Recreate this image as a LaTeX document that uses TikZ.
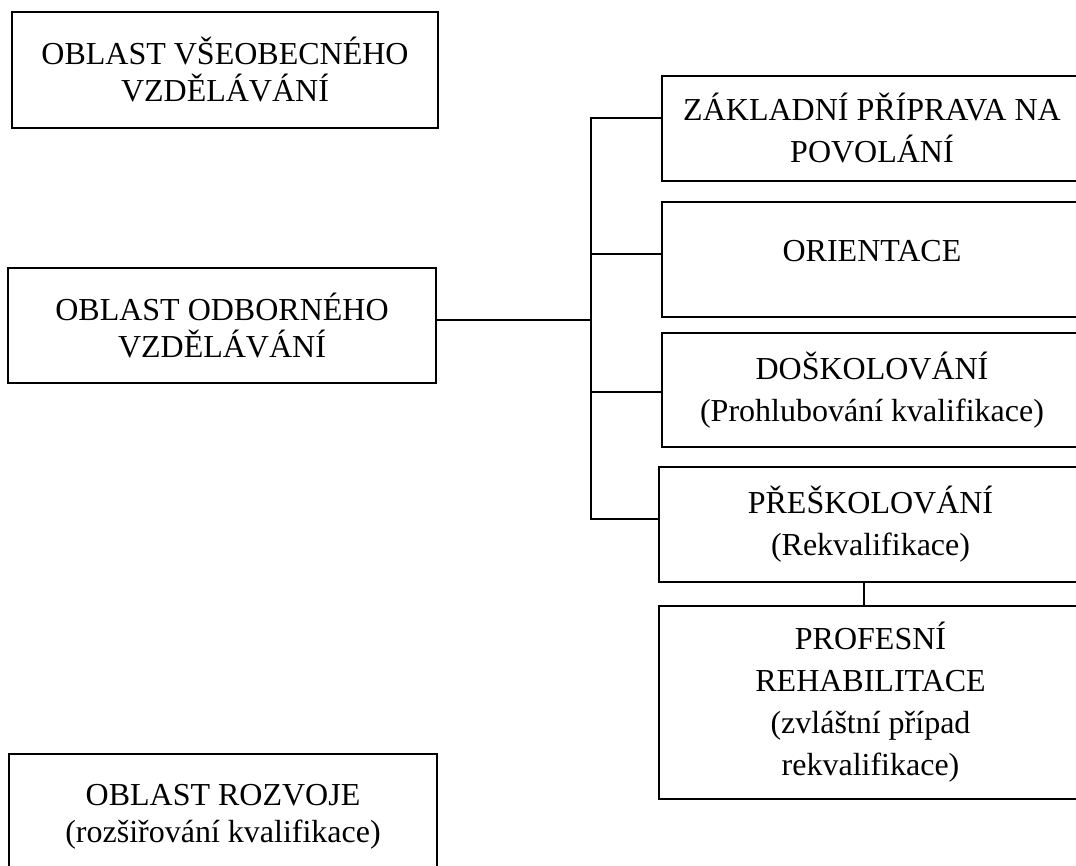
\documentclass[tikz,border=0pt]{standalone}
\usepackage{fontspec}
\setmainfont{Liberation Serif}
\begin{document}
\begin{tikzpicture}[x=1pt,y=-1pt,
  box/.style={draw,line width=2.2pt,rectangle,inner sep=0pt,outer sep=0pt,anchor=north west,align=center},
  lbox/.style={box,font=\fontsize{32}{37}\selectfont},
  rbox/.style={box,font=\fontsize{32}{42}\selectfont},
  conn/.style={line width=2.2pt}]
\useasboundingbox (0,0) rectangle (1076,866);
% left boxes
\node[lbox,minimum width=426pt,minimum height=116pt] (b1) at (12,12) {OBLAST VŠEOBECNÉHO\\VZDĚLÁVÁNÍ};
\node[lbox,minimum width=428pt,minimum height=115pt] (b2) at (8,268) {OBLAST ODBORNÉHO\\VZDĚLÁVÁNÍ};
\node[lbox,minimum width=428pt,minimum height=126pt] (b3) at (9,754) {OBLAST ROZVOJE\\(rozšiřování kvalifikace)};
% right boxes
\node[rbox,minimum width=420pt,minimum height=105pt] (r1) at (662,76) {ZÁKLADNÍ PŘÍPRAVA NA\\POVOLÁNÍ};
\node[rbox,minimum width=420pt,minimum height=115pt,text depth=17pt] (r2) at (662,202) {ORIENTACE};
\node[rbox,minimum width=420pt,minimum height=114pt] (r3) at (662,333) {DOŠKOLOVÁNÍ\\(Prohlubování kvalifikace)};
\node[rbox,minimum width=423pt,minimum height=115pt] (r4) at (659,467) {PŘEŠKOLOVÁNÍ\\(Rekvalifikace)};
\node[rbox,minimum width=423pt,minimum height=193pt] (r5) at (659,606) {PROFESNÍ\\REHABILITACE\\(zvláštní případ\\rekvalifikace)};
% trunk coordinates
\coordinate (j0) at (591,320);
\coordinate (c1) at (591,118);
\coordinate (c2) at (591,254);
\coordinate (c3) at (591,392);
\coordinate (c4) at (591,519);
\coordinate (v) at (864,0);
% connectors
\draw[conn] (b2.east |- j0) -- (j0);
\draw[conn,line cap=rect] (c1) -- (c4);
\draw[conn] (c1) -- (c1 -| r1.west);
\draw[conn] (c2) -- (c2 -| r2.west);
\draw[conn] (c3) -- (c3 -| r3.west);
\draw[conn] (c4) -- (c4 -| r4.west);
\draw[conn] (v |- r4.south) -- (v |- r5.north);
\end{tikzpicture}
\end{document}
